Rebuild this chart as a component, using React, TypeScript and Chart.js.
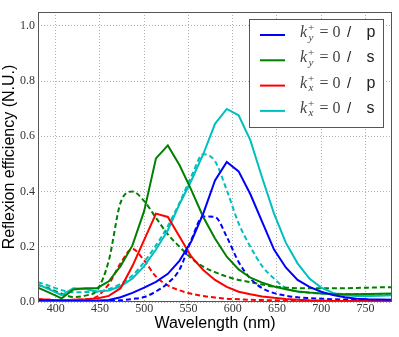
import React, { useEffect, useRef } from 'react';
import { Chart, registerables } from 'chart.js';

Chart.register(...registerables);

// Wavelength sampling (nm)
const wavelengths = [380, 393.3, 406.7, 420, 433.3, 446.7, 460, 473.3, 486.7, 500, 513.3, 526.7, 540, 553.3, 566.7, 580, 593.3, 606.7, 620, 633.3, 646.7, 660, 673.3, 686.7, 700, 713.3, 726.7, 740, 753.3, 766.7, 780];

// Tick values
const xTickValues = [400, 450, 500, 550, 600, 650, 700, 750];
const yTickValues = [0, 0.2, 0.4, 0.6, 0.8, 1.0];

// Solid curves
const kyP = [0.006, 0.005, 0.004, 0.004, 0.004, 0.005, 0.007, 0.017, 0.033, 0.052, 0.073, 0.102, 0.15, 0.22, 0.32, 0.44, 0.507, 0.473, 0.39, 0.29, 0.19, 0.125, 0.08, 0.055, 0.037, 0.025, 0.017, 0.012, 0.01, 0.009, 0.008];
const kyS = [0.052, 0.033, 0.013, 0.045, 0.05, 0.05, 0.075, 0.13, 0.205, 0.33, 0.52, 0.567, 0.495, 0.405, 0.308, 0.23, 0.164, 0.118, 0.088, 0.07, 0.056, 0.046, 0.038, 0.034, 0.031, 0.029, 0.028, 0.028, 0.029, 0.03, 0.031];
const kxP = [0.01, 0.008, 0.007, 0.008, 0.01, 0.013, 0.022, 0.05, 0.13, 0.225, 0.32, 0.308, 0.236, 0.164, 0.116, 0.08, 0.055, 0.037, 0.028, 0.02, 0.015, 0.011, 0.008, 0.006, 0.005, 0.004, 0.004, 0.003, 0.003, 0.003, 0.003];
const kxS = [0.064, 0.045, 0.025, 0.05, 0.047, 0.038, 0.042, 0.057, 0.085, 0.13, 0.19, 0.26, 0.355, 0.44, 0.535, 0.645, 0.699, 0.676, 0.585, 0.45, 0.32, 0.215, 0.14, 0.085, 0.052, 0.033, 0.024, 0.022, 0.022, 0.023, 0.024];

// Dashed curves
const kyPDash = [0.003, 0.003, 0.003, 0.003, 0.003, 0.003, 0.004, 0.006, 0.011, 0.018, 0.038, 0.068, 0.118, 0.225, 0.31, 0.308, 0.236, 0.145, 0.085, 0.05, 0.032, 0.023, 0.017, 0.014, 0.012, 0.01, 0.009, 0.008, 0.007, 0.007, 0.006];
const kySDash = [0.062, 0.048, 0.03, 0.018, 0.023, 0.043, 0.15, 0.36, 0.4, 0.365, 0.305, 0.245, 0.2, 0.158, 0.128, 0.108, 0.092, 0.08, 0.072, 0.063, 0.056, 0.052, 0.05, 0.05, 0.05, 0.05, 0.05, 0.051, 0.052, 0.053, 0.053];
const kxPDash = [0.01, 0.008, 0.007, 0.008, 0.01, 0.02, 0.065, 0.14, 0.192, 0.15, 0.092, 0.06, 0.042, 0.03, 0.022, 0.016, 0.012, 0.01, 0.008, 0.007, 0.006, 0.005, 0.005, 0.004, 0.004, 0.004, 0.004, 0.004, 0.004, 0.004, 0.004];
const kxSDash = [0.072, 0.058, 0.043, 0.035, 0.036, 0.037, 0.047, 0.066, 0.096, 0.145, 0.205, 0.275, 0.36, 0.455, 0.535, 0.51, 0.405, 0.285, 0.2, 0.13, 0.085, 0.05, 0.038, 0.033, 0.031, 0.03, 0.029, 0.029, 0.029, 0.029, 0.029];

// Legend entries
const legendSubs = ['y', 'y', 'x', 'x'];
const legendPols = ['p', 's', 'p', 's'];
const legendColors = ['#0000ff', '#008000', '#ff0000', '#00bfbf'];

const xTitle = 'Wavelength (nm)';
const yTitle = 'Reflexion efficiency (N.U.)';

const toPoints = (ys: number[]) => ys.map((y, i) => ({ x: wavelengths[i], y }));

const framePlugin = {
  id: 'mplFrame',
  afterDatasetsDraw(chart: any) {
    const { ctx, chartArea } = chart;
    ctx.save();
    ctx.strokeStyle = '#555';
    ctx.lineWidth = 1;
    ctx.strokeRect(
      Math.round(chartArea.left) + 0.5,
      Math.round(chartArea.top) + 0.5,
      Math.round(chartArea.right - chartArea.left) - 1,
      Math.round(chartArea.bottom - chartArea.top) - 1
    );
    ctx.restore();
  },
};

const legendPlugin = {
  id: 'mplLegend',
  afterDraw(chart: any) {
    const ctx = chart.ctx;
    ctx.save();
    const bx = 249.5, by = 19.5, bw = 134, bh = 108;
    ctx.fillStyle = '#ffffff';
    ctx.fillRect(bx, by, bw, bh);
    ctx.strokeStyle = '#555';
    ctx.lineWidth = 1;
    ctx.strokeRect(bx, by, bw, bh);
    ctx.textBaseline = 'alphabetic';
    ctx.textAlign = 'left';
    legendSubs.forEach((sub, i) => {
      const y = 35 + i * 25.3;
      ctx.strokeStyle = legendColors[i];
      ctx.lineWidth = 2;
      ctx.beginPath();
      ctx.moveTo(260, y);
      ctx.lineTo(285, y);
      ctx.stroke();
      const base = y + 2;
      ctx.fillStyle = '#444';
      ctx.font = 'italic 16px "Liberation Serif"';
      ctx.fillText('k', 300, base);
      ctx.font = 'italic 11px "Liberation Serif"';
      ctx.fillText(sub, 308.5, base + 3.5);
      ctx.font = '11px "Liberation Serif"';
      ctx.fillText('+', 308, base - 6);
      ctx.font = '16px "Liberation Serif"';
      ctx.fillText('=', 319.5, base);
      ctx.fillText('0', 332.5, base);
      ctx.fillStyle = '#222';
      ctx.font = '15px "Liberation Sans"';
      ctx.fillText('/', 347, base);
      ctx.font = '16px "Liberation Sans"';
      ctx.fillText(legendPols[i], 366.5, base);
    });
    ctx.restore();
  },
};

export default function App() {
  const canvasRef = useRef<HTMLCanvasElement | null>(null);

  useEffect(() => {
    const canvas = canvasRef.current;
    if (!canvas) return;
    const solid = (label: string, data: number[], color: string) => ({
      label,
      data: toPoints(data),
      borderColor: color,
      backgroundColor: color,
      borderWidth: 2,
      pointRadius: 0,
      tension: 0,
      fill: false,
    });
    const dashed = (label: string, data: number[], color: string) => ({
      label,
      data: toPoints(data),
      borderColor: color,
      backgroundColor: color,
      borderWidth: 2,
      borderDash: [5, 3],
      pointRadius: 0,
      cubicInterpolationMode: 'monotone',
      fill: false,
    });
    const chart = new Chart(canvas, {
      type: 'line',
      data: {
        datasets: [
          solid('k_y+ = 0 / p', kyP, legendColors[0]),
          solid('k_y+ = 0 / s', kyS, legendColors[1]),
          solid('k_x+ = 0 / p', kxP, legendColors[2]),
          solid('k_x+ = 0 / s', kxS, legendColors[3]),
          dashed('k_y+ = 0 / p (dashed)', kyPDash, legendColors[0]),
          dashed('k_y+ = 0 / s (dashed)', kySDash, legendColors[1]),
          dashed('k_x+ = 0 / p (dashed)', kxPDash, legendColors[2]),
          dashed('k_x+ = 0 / s (dashed)', kxSDash, legendColors[3]),
        ] as any,
      },
      options: {
        animation: false,
        responsive: false,
        maintainAspectRatio: false,
        layout: { padding: { top: 12, right: 7, left: 0, bottom: 0 } },
        plugins: {
          legend: { display: false },
          tooltip: { enabled: false },
        },
        scales: {
          x: {
            type: 'linear',
            min: 380,
            max: 780,
            afterBuildTicks: (scale: any) => { scale.ticks = xTickValues.map((v) => ({ value: v })); },
            afterFit: (scale: any) => { scale.height = 35; },
            ticks: {
              padding: 0,
              color: '#333',
              font: { family: '"Liberation Serif"', size: 12 },
              callback: (v: any) => String(v),
            },
            grid: { color: '#b0b0b0', lineWidth: 1, drawTicks: false },
            border: { display: false, dash: [1, 2] },
            title: {
              display: true,
              text: xTitle,
              color: '#000',
              font: { family: '"Liberation Sans"', size: 16 },
              padding: { top: 0, bottom: 4 },
            },
          },
          y: {
            type: 'linear',
            min: 0,
            max: 1.05,
            afterBuildTicks: (scale: any) => { scale.ticks = yTickValues.map((v) => ({ value: v })); },
            afterFit: (scale: any) => { scale.width = 38; },
            ticks: {
              padding: 3,
              color: '#333',
              font: { family: '"Liberation Serif"', size: 12 },
              callback: (v: any) => Number(v).toFixed(1),
            },
            grid: { color: '#b0b0b0', lineWidth: 1, drawTicks: false },
            border: { display: false, dash: [1, 2] },
            title: {
              display: true,
              text: yTitle,
              color: '#000',
              font: { family: '"Liberation Sans"', size: 16 },
              padding: { top: 0, bottom: 0 },
            },
          },
        },
      } as any,
      plugins: [framePlugin, legendPlugin],
    });
    return () => chart.destroy();
  }, []);

  return (
    <div style={{ position: 'fixed', left: 0, top: 0, width: 399, height: 337, background: '#fff' }}>
      <canvas ref={canvasRef} width={399} height={337} style={{ width: 399, height: 337, display: 'block' }} />
    </div>
  );
}
